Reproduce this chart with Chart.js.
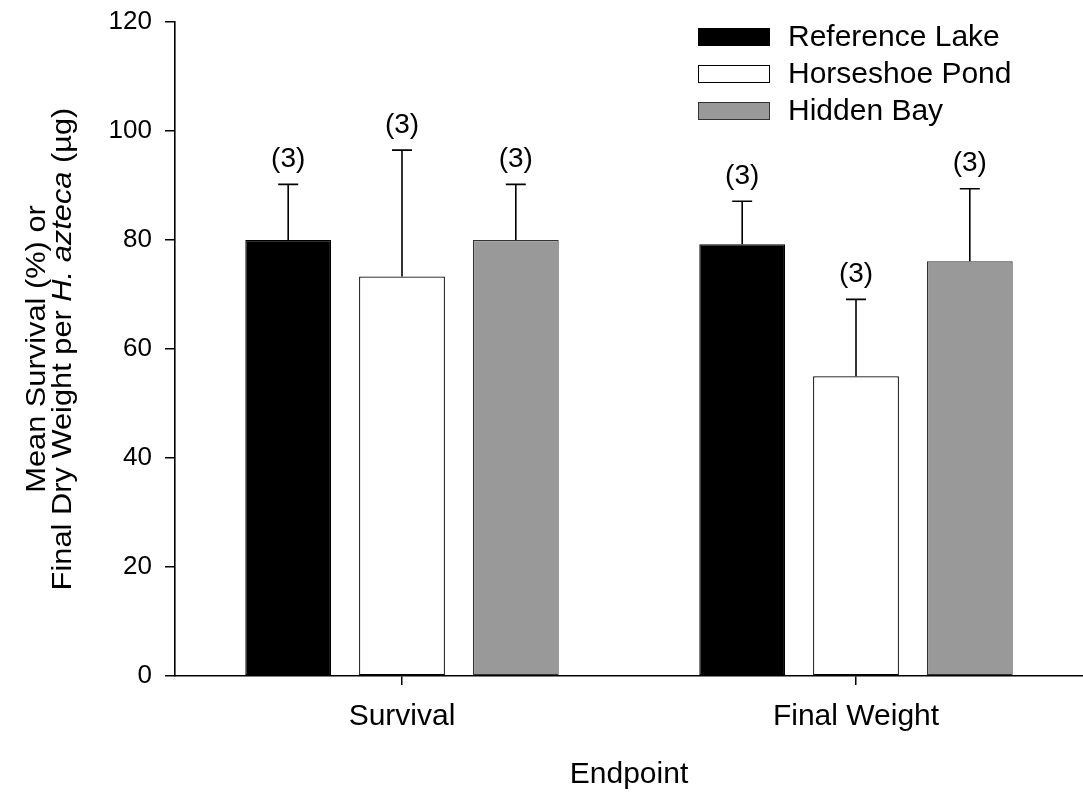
<!DOCTYPE html>
<html>
<head>
<meta charset="utf-8">
<script src="https://cdn.jsdelivr.net/npm/chart.js@4.4.1/dist/chart.umd.min.js"></script>
<style>
  html, body { margin: 0; padding: 0; background: #fff; }
  #wrap { width: 1083px; height: 795px; position: relative; }
</style>
</head>
<body>
<div id="wrap"><canvas id="c"></canvas></div>
<script>
// Endpoints on the x axis
const categories = ['Survival', 'Final Weight'];

// Site names
const seriesNames = ['Reference Lake', 'Horseshoe Pond', 'Hidden Bay'];

// Means per endpoint (survival %, dry weight µg)
const referenceLake = [80, 79.2];
const horseshoePond = [73.3, 55];
const hiddenBay = [80, 76.1];

// Standard deviations (upper error bars)
const referenceLakeSD = [10.2, 7.9];
const horseshoePondSD = [23.2, 14.1];
const hiddenBaySD = [10.2, 13.3];

// Replicate counts printed above each bar
const referenceLakeN = [3, 3];
const horseshoePondN = [3, 3];
const hiddenBayN = [3, 3];

// Y axis tick values
const yTicks = [0, 20, 40, 60, 80, 100, 120];

const FONT = '"Liberation Sans", Arial, Helvetica, sans-serif';

const fills = ['#000000', '#ffffff', '#999999'];
const borders = ['#000000', '#000000', '#333333'];
const sds = [referenceLakeSD, horseshoePondSD, hiddenBaySD];
const counts = [referenceLakeN, horseshoePondN, hiddenBayN];

// Upper error bars with caps and replicate labels
const errorBars = {
  id: 'errorBars',
  afterDatasetsDraw(chart) {
    const ctx = chart.ctx;
    const y = chart.scales.y;
    ctx.save();
    ctx.strokeStyle = '#000';
    ctx.lineWidth = 1.6;
    chart.data.datasets.forEach((ds, i) => {
      const meta = chart.getDatasetMeta(i);
      meta.data.forEach((bar, j) => {
        const top = y.getPixelForValue(ds.data[j] + sds[i][j]);
        const base = y.getPixelForValue(ds.data[j]);
        ctx.beginPath();
        ctx.moveTo(bar.x, base);
        ctx.lineTo(bar.x, top);
        ctx.moveTo(bar.x - 10, top);
        ctx.lineTo(bar.x + 10, top);
        ctx.stroke();
        ctx.fillStyle = '#000';
        ctx.font = '28px ' + FONT;
        ctx.textAlign = 'center';
        ctx.textBaseline = 'middle';
        ctx.fillText('(' + counts[i][j] + ')', bar.x, top - 25);
      });
    });
    ctx.restore();
  }
};

// Legend in the upper right corner of the plot
const boxLegend = {
  id: 'boxLegend',
  afterDraw(chart) {
    const ctx = chart.ctx;
    ctx.save();
    chart.data.datasets.forEach((ds, i) => {
      const cy = 37 + i * 37;
      ctx.fillStyle = ds.backgroundColor;
      ctx.fillRect(698, cy - 9, 72, 18);
      ctx.strokeStyle = ds.borderColor;
      ctx.lineWidth = 1;
      ctx.strokeRect(698.5, cy - 8.5, 71, 17);
      ctx.fillStyle = '#000';
      ctx.font = '30px ' + FONT;
      ctx.textAlign = 'left';
      ctx.textBaseline = 'middle';
      ctx.fillText(ds.label, 788, cy + 1);
    });
    ctx.restore();
  }
};

// Two-line rotated y title with italic species name, and x title
const axisTitles = {
  id: 'axisTitles',
  afterDraw(chart) {
    const ctx = chart.ctx;
    const area = chart.chartArea;
    const cy = (area.top + area.bottom) / 2;
    const stretch = 1.1;
    ctx.save();
    ctx.fillStyle = '#000';
    ctx.textBaseline = 'middle';

    ctx.save();
    ctx.translate(37, cy);
    ctx.rotate(-Math.PI / 2);
    ctx.scale(stretch, 1);
    ctx.font = '28px ' + FONT;
    ctx.textAlign = 'center';
    ctx.fillText('Mean Survival (%) or', 0, 0);
    ctx.restore();

    ctx.save();
    ctx.translate(63, cy);
    ctx.rotate(-Math.PI / 2);
    ctx.scale(stretch, 1);
    const parts = [
      ['Final Dry Weight per ', 'normal'],
      ['H. azteca', 'italic'],
      [' (µg)', 'normal']
    ];
    let total = 0;
    parts.forEach(p => {
      ctx.font = p[1] + ' 28px ' + FONT;
      total += ctx.measureText(p[0]).width;
    });
    let x = -total / 2;
    ctx.textAlign = 'left';
    parts.forEach(p => {
      ctx.font = p[1] + ' 28px ' + FONT;
      ctx.fillText(p[0], x, 0);
      x += ctx.measureText(p[0]).width;
    });
    ctx.restore();

    ctx.font = '30px ' + FONT;
    ctx.textAlign = 'center';
    ctx.fillText('Endpoint', (area.left + area.right) / 2, 775);
    ctx.restore();
  }
};

const datasets = [referenceLake, horseshoePond, hiddenBay].map((vals, i) => ({
  label: seriesNames[i],
  data: vals,
  backgroundColor: fills[i],
  borderColor: borders[i],
  borderWidth: 1.2,
  borderSkipped: false,
  categoryPercentage: 0.752,
  barPercentage: 0.754
}));

new Chart(document.getElementById('c'), {
  type: 'bar',
  data: { labels: categories, datasets },
  options: {
    responsive: true,
    maintainAspectRatio: false,
    animation: false,
    layout: { padding: { top: 22, right: -2, left: 0, bottom: 0 } },
    plugins: {
      legend: { display: false },
      tooltip: { enabled: false }
    },
    scales: {
      x: {
        offset: true,
        grid: {
          display: true,
          offset: false,
          drawOnChartArea: false,
          drawTicks: true,
          tickLength: 9,
          color: '#000',
          lineWidth: 1.5
        },
        border: { display: true, color: '#000', width: 1.6 },
        ticks: {
          color: '#000',
          font: { family: FONT, size: 30 },
          padding: 14,
          maxRotation: 0
        },
        afterFit(scale) {
          scale.height = 119;
          scale.paddingLeft = 0;
          scale.paddingRight = 0;
        }
      },
      y: {
        min: 0,
        max: 120,
        afterBuildTicks(scale) { scale.ticks = yTicks.map(v => ({ value: v })); },
        grid: {
          display: true,
          drawOnChartArea: false,
          drawTicks: true,
          tickLength: 10,
          color: '#000',
          lineWidth: 1.5
        },
        border: { display: true, color: '#000', width: 1.6 },
        ticks: {
          color: '#000',
          font: { family: FONT, size: 26 },
          padding: 13
        },
        afterFit(scale) {
          scale.width = 175;
          scale.paddingTop = 0;
          scale.paddingBottom = 0;
        }
      }
    }
  },
  plugins: [errorBars, boxLegend, axisTitles]
});
</script>
</body>
</html>
